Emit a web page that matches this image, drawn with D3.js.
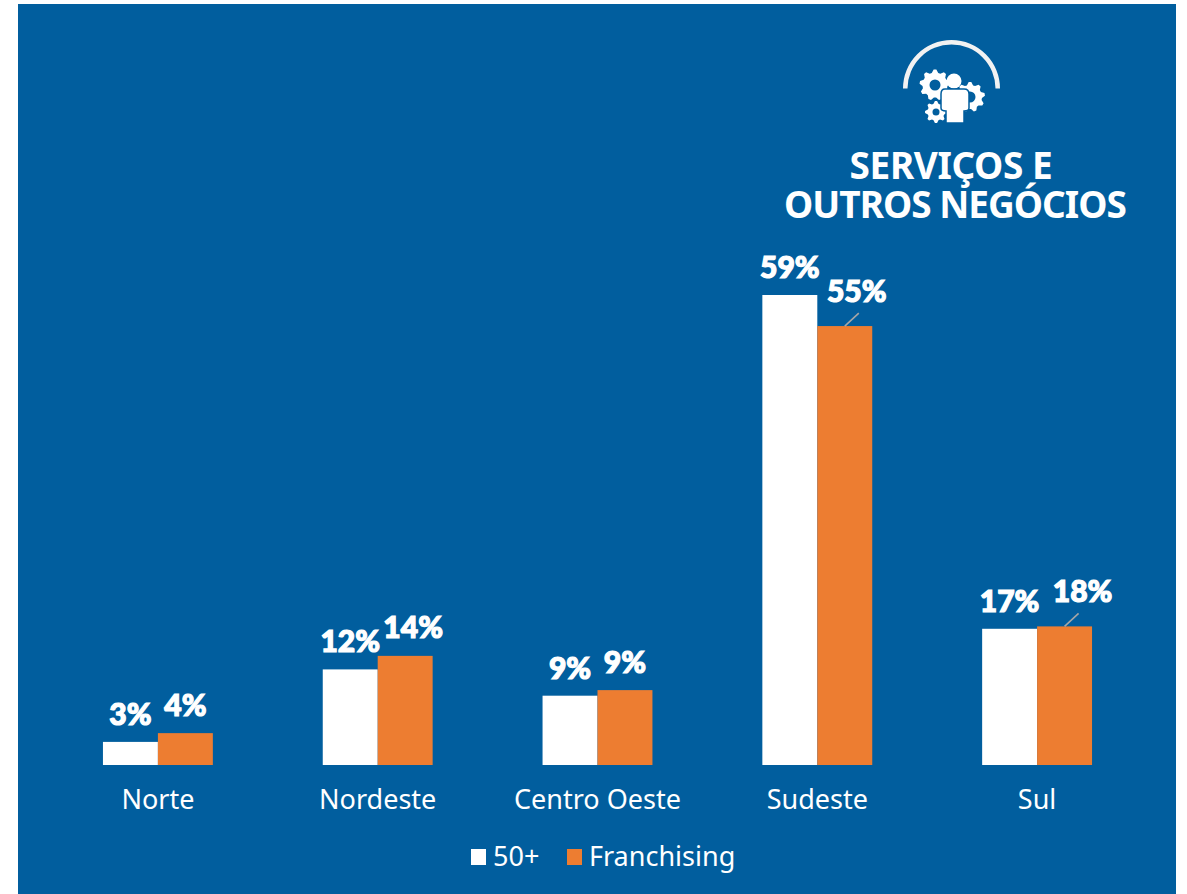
<!DOCTYPE html>
<html>
<head>
<meta charset="utf-8">
<script src="https://cdn.jsdelivr.net/npm/d3@7"></script>
<style>
  html, body { margin: 0; padding: 0; background: #fff; }
  svg { display: block; }
  text { fill: #fff; }
  .cat { font: 400 27px "Noto Sans", sans-serif; }
  .legend { font: 400 27px "Noto Sans", sans-serif; }
  .value { font: 900 30px Lato, sans-serif; stroke: #fff; stroke-width: 1.2px; }
  .title { font: 700 37px "Noto Sans", sans-serif; letter-spacing: -1px; }
</style>
</head>
<body>
<div id="chart"></div>
<script>
const regions = ["Norte", "Nordeste", "Centro Oeste", "Sudeste", "Sul"];
const series = ["50+", "Franchising"];
const values50 = [2.9, 12, 8.7, 59, 17.1];
const valuesFranchising = [4, 13.7, 9.4, 55.1, 17.4];
const labels50 = ["3%", "12%", "9%", "59%", "17%"];
const labelsFranchising = ["4%", "14%", "9%", "55%", "18%"];
const colors = ["#ffffff", "#ed7d31"];

const width = 1187;
const height = 894;
const baseY = 765;

const svg = d3
  .select("#chart")
  .append("svg")
  .attr("width", width)
  .attr("height", height);

svg
  .append("rect")
  .attr("x", 18)
  .attr("y", 4)
  .attr("width", 1158)
  .attr("height", 890)
  .attr("fill", "#015e9e");

const x = d3
  .scaleBand()
  .domain(regions)
  .range([48, 1147])
  .paddingInner(0.5)
  .paddingOuter(0.25);

const xSeries = d3.scaleBand().domain(series).range([0, x.bandwidth()]);

const y = d3.scaleLinear().domain([0, 59]).range([baseY, 295]);

const rows = regions.flatMap((region, i) => [
  { region, key: series[0], value: values50[i], label: labels50[i] },
  { region, key: series[1], value: valuesFranchising[i], label: labelsFranchising[i] },
]);

const color = d3.scaleOrdinal().domain(series).range(colors);

svg
  .selectAll(".bar")
  .data(rows)
  .enter()
  .append("rect")
  .attr("class", "bar")
  .attr("x", (d) => x(d.region) + xSeries(d.key))
  .attr("y", (d) => y(d.value))
  .attr("width", xSeries.bandwidth())
  .attr("height", (d) => baseY - y(d.value))
  .attr("fill", (d) => color(d.key));

// some labels were pulled off their bar by hand in the original
const nudge = {
  "Nordeste|Franchising": [8, -1],
  "Sudeste|Franchising": [12, -7],
  "Sul|Franchising": [18, -7],
};
const getNudge = (d) => nudge[`${d.region}|${d.key}`] || [0, 0];
const barCenter = (d) => x(d.region) + xSeries(d.key) + xSeries.bandwidth() / 2;

svg
  .selectAll(".value")
  .data(rows)
  .enter()
  .append("text")
  .attr("class", "value")
  .attr("text-anchor", "middle")
  .attr("x", (d) => barCenter(d) + getNudge(d)[0])
  .attr("y", (d) => y(d.value) - 17 + getNudge(d)[1])
  .text((d) => d.label);

// leader lines for the two moved labels
svg
  .selectAll(".leader")
  .data(rows.filter((d) => d.key === series[1] && (d.region === "Sudeste" || d.region === "Sul")))
  .enter()
  .append("line")
  .attr("class", "leader")
  .attr("x1", (d) => barCenter(d))
  .attr("y1", (d) => y(d.value))
  .attr("x2", (d) => barCenter(d) + 14)
  .attr("y2", (d) => y(d.value) - 13)
  .attr("stroke", "#a6a6a6")
  .attr("stroke-width", 1.6);

svg
  .selectAll(".cat")
  .data(regions)
  .enter()
  .append("text")
  .attr("class", "cat")
  .attr("text-anchor", "middle")
  .attr("x", (d) => x(d) + x.bandwidth() / 2)
  .attr("y", 809)
  .text((d) => d);

// legend
const legendItems = svg
  .selectAll(".legend-item")
  .data(series)
  .enter()
  .append("g")
  .attr("class", "legend-item")
  .attr("transform", (d, i) => `translate(${i === 0 ? 471 : 567},849)`);

legendItems
  .append("rect")
  .attr("width", 15)
  .attr("height", 16)
  .attr("fill", (d) => color(d));

legendItems
  .append("text")
  .attr("class", "legend")
  .attr("x", (d, i) => (i === 0 ? 22 : 22))
  .attr("y", 17)
  .text((d) => d);

// title
const title = svg.append("text").attr("class", "title").attr("text-anchor", "middle");
title
  .append("tspan")
  .attr("x", 951)
  .attr("y", 179)
  .style("letter-spacing", "-0.4px")
  .text("SERVIÇOS E");
title.append("tspan").attr("x", 955).attr("y", 218).text("OUTROS NEGÓCIOS");

// icon: dome, gears and person
const gearPath = (cx, cy, outer, inner, teeth) => {
  const pts = d3.range(teeth * 4).map((i) => {
    const r = i % 4 < 2 ? outer : inner;
    return [((i - 0.5) * 2 * Math.PI) / (teeth * 4), r];
  });
  return { cx, cy, d: d3.lineRadial().curve(d3.curveLinearClosed)(pts) };
};

const icon = svg.append("g");

icon
  .append("path")
  .attr("transform", "translate(951.5,88.5)")
  .attr(
    "d",
    d3.arc()({
      innerRadius: 44,
      outerRadius: 48.5,
      startAngle: -Math.PI / 2,
      endAngle: Math.PI / 2,
    })
  )
  .attr("fill", "#f2f2f2");

const gears = [
  { g: gearPath(935, 85, 15.5, 12.5, 9), hole: 5.5 },
  { g: gearPath(970, 97, 15, 12, 9), hole: 5.5 },
  { g: gearPath(936, 112, 11, 8.5, 8), hole: 3.5 },
];

gears.forEach(({ g, hole }) => {
  icon
    .append("path")
    .attr("transform", `translate(${g.cx},${g.cy})`)
    .attr("d", g.d)
    .attr("fill", "#fff");
  icon
    .append("circle")
    .attr("cx", g.cx)
    .attr("cy", g.cy)
    .attr("r", hole)
    .attr("fill", "#015e9e");
});

icon.append("circle").attr("cx", 954).attr("cy", 81).attr("r", 7.5).attr("fill", "#fff");

icon
  .append("path")
  .attr("d", "M945,89H964Q969,89 969,94V108Q969,111 964,111V123H946V111Q941,111 941,108V94Q941,89 945,89Z")
  .attr("fill", "#fff")
  .attr("stroke", "#015e9e")
  .attr("stroke-width", 1.5);
</script>
</body>
</html>
